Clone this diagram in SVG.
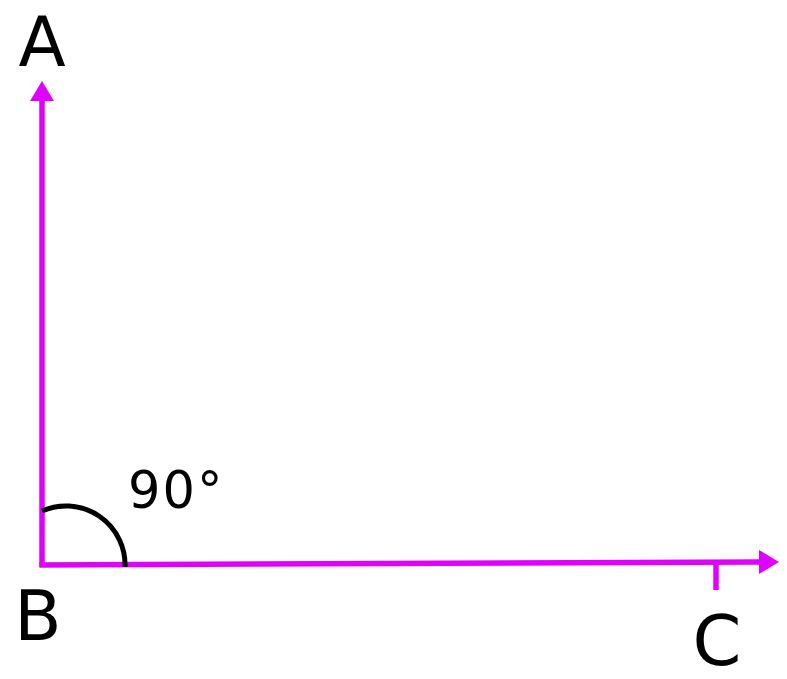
<svg xmlns="http://www.w3.org/2000/svg" width="787" height="679" viewBox="0 0 787 679">
<style>
.lbl{font-family:"DejaVu Sans",sans-serif;fill:#000}
.ray{stroke:#e100ff;stroke-width:5.5;fill:none}
</style>
<defs>
<marker id="ah" markerUnits="userSpaceOnUse" markerWidth="24" markerHeight="24" refX="0" refY="12" orient="auto" viewBox="0 0 24 24">
<path d="M0,0 L20,12 L0,24 Z" fill="#e100ff"/>
</marker>
</defs>
<rect width="787" height="679" fill="#fff"/>
<g id="connectors">
<path class="ray" d="M42,567 L42,101" marker-end="url(#ah)"/>
<path class="ray" d="M39.5,565 L759,562" marker-end="url(#ah)"/>
<path class="ray" d="M716,562 L716,590"/>
<path d="M42,511 A59,59 0 0 1 125,567" stroke="#000" stroke-width="5" fill="none"/>
</g>
<g id="A"><text class="lbl" x="42" y="66" font-size="69" text-anchor="middle">A</text></g>
<g id="B"><text class="lbl" x="38" y="640" font-size="69" text-anchor="middle">B</text></g>
<g id="C"><text class="lbl" x="717" y="665" font-size="70" text-anchor="middle">C</text></g>
<g id="angle"><text class="lbl" x="128" y="508" font-size="51" letter-spacing="2">90°</text></g>
</svg>
